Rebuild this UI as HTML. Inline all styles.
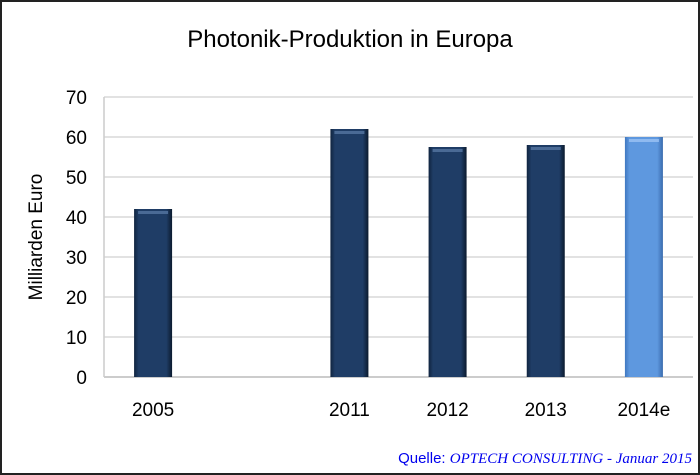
<!DOCTYPE html>
<html><head><meta charset="utf-8"><style>
html,body{margin:0;padding:0;background:#fff}
svg{display:block;font-family:"Liberation Sans",Arial,sans-serif}
</style></head><body>
<svg id="chart" width="700" height="475" viewBox="0 0 700 475">
<defs>
<linearGradient id="gDark" x1="0" y1="0" x2="1" y2="0">
<stop offset="0" stop-color="#10243f"/><stop offset="0.12" stop-color="#1f3d66"/><stop offset="0.85" stop-color="#1f3d66"/><stop offset="1" stop-color="#0b1a2e"/></linearGradient>
<linearGradient id="gLight" x1="0" y1="0" x2="1" y2="0">
<stop offset="0" stop-color="#3f78c0"/><stop offset="0.12" stop-color="#5e98df"/><stop offset="0.85" stop-color="#5e98df"/><stop offset="1" stop-color="#3a6cae"/></linearGradient>
</defs>
<rect x="1" y="1" width="698" height="473" fill="#fff" stroke="#222" stroke-width="2"/>
<text x="350" y="47" font-size="24" text-anchor="middle" fill="#000">Photonik-Produktion in Europa</text>
<text transform="translate(42,237) rotate(-90)" font-size="19" text-anchor="middle">Milliarden Euro</text>
<g id="grid"></g><g id="bars"></g><g id="xlabels"></g>
<text x="692" y="463" font-size="15" text-anchor="end" fill="#0000ee">Quelle: <tspan font-family="Liberation Serif,serif" font-style="italic">OPTECH CONSULTING - Januar 2015</tspan></text>
</svg>
<script>
const categories=["2005","","2011","2012","2013","2014e"];
const values=[42,null,62,57.5,58,60];
const estimated=[false,false,false,false,false,true];
const yTicks=[0,10,20,30,40,50,60,70];
const NS="http://www.w3.org/2000/svg";
const x0=104,x1=693,y0=377,y1=97,yMax=70;
const y=v=>y0-(v/yMax)*(y0-y1);
const slot=(x1-x0)/categories.length;
const xc=i=>x0+slot*(i+0.5);
function mk(tag,attrs,parent,txt){const e=document.createElementNS(NS,tag);for(const k in attrs)e.setAttribute(k,attrs[k]);if(txt!=null)e.textContent=txt;parent.appendChild(e);return e;}
const grid=document.getElementById('grid'),bars=document.getElementById('bars'),xl=document.getElementById('xlabels');
yTicks.forEach(t=>{
 const l=mk('line',{x1:x0,x2:x1,y1:y(t),y2:y(t),stroke:t===0?'#bbb':'#d9d9d9','stroke-width':1.5},grid);
 
 
 const tx=mk('text',{x:87,y:y(t)+7,'font-size':19,'text-anchor':'end'},grid,String(t));
 
 
});
const ax=mk('line',{x1:x0,x2:x0,y1:y1,y2:y0,stroke:'#ccc','stroke-width':1.5},grid);


const bw=38;
categories.forEach((c,i)=>{
 if(c){const t=mk('text',{x:xc(i),y:416,'font-size':19,'text-anchor':'middle'},xl,c);
 
 }
 const v=values[i]; if(v==null)return;
 const g=mk('g',{},bars);
 
 
 mk('rect',{x:xc(i)-bw/2,y:y(v),width:bw,height:y0-y(v),fill:estimated[i]?'url(#gLight)':'url(#gDark)'},g);
 mk('rect',{x:xc(i)-bw/2+4,y:y(v)+2,width:bw-8,height:3,fill:estimated[i]?'#8fbaf0':'#4a6a95'},g);
});
</script>
</body></html>
